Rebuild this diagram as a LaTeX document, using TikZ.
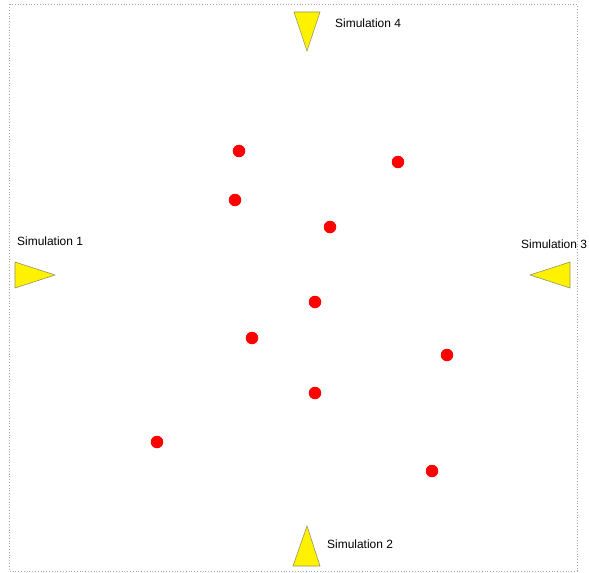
\documentclass[tikz,border=0pt]{standalone}
\usepackage{fontspec}
\setmainfont{Liberation Sans}
\begin{document}
\begin{tikzpicture}[x=1bp,y=-1bp,
  sample/.style={circle,fill=red,inner sep=0pt,minimum size=12.5bp},
  simtri/.style={fill=yellow,draw=black!45!yellow!60!gray,line width=0.6bp,line join=miter},
  simlabel/.style={anchor=base west,inner sep=0pt,font=\fontsize{12}{14}\selectfont}]
\useasboundingbox (0,0) rectangle (589,573);
\draw[gray!70,dotted,line width=0.8bp] (9.5,4.5) rectangle (577,571);
% samples
\node[sample] (p1) at (239,151) {};
\node[sample] (p2) at (398,162) {};
\node[sample] (p3) at (235,200) {};
\node[sample] (p4) at (330,227) {};
\node[sample] (p5) at (315,302) {};
\node[sample] (p6) at (252,338) {};
\node[sample] (p7) at (447,355) {};
\node[sample] (p8) at (315,393) {};
\node[sample] (p9) at (157,442) {};
\node[sample] (p10) at (432,471) {};
% simulations
\draw[simtri] (294,12) -- (320,12) -- (307,51) -- cycle;
\node[simlabel] (s4) at (335,28) {Simulation 4};
\draw[simtri] (15,262) -- (15,288) -- (55,275) -- cycle;
\node[simlabel] (s1) at (17,245) {Simulation 1};
\draw[simtri] (570,262) -- (570,288) -- (530,275) -- cycle;
\node[simlabel] (s3) at (521,248) {Simulation 3};
\draw[simtri] (293,566) -- (320,566) -- (307,526) -- cycle;
\node[simlabel] (s2) at (327,548) {Simulation 2};
\end{tikzpicture}
\end{document}
